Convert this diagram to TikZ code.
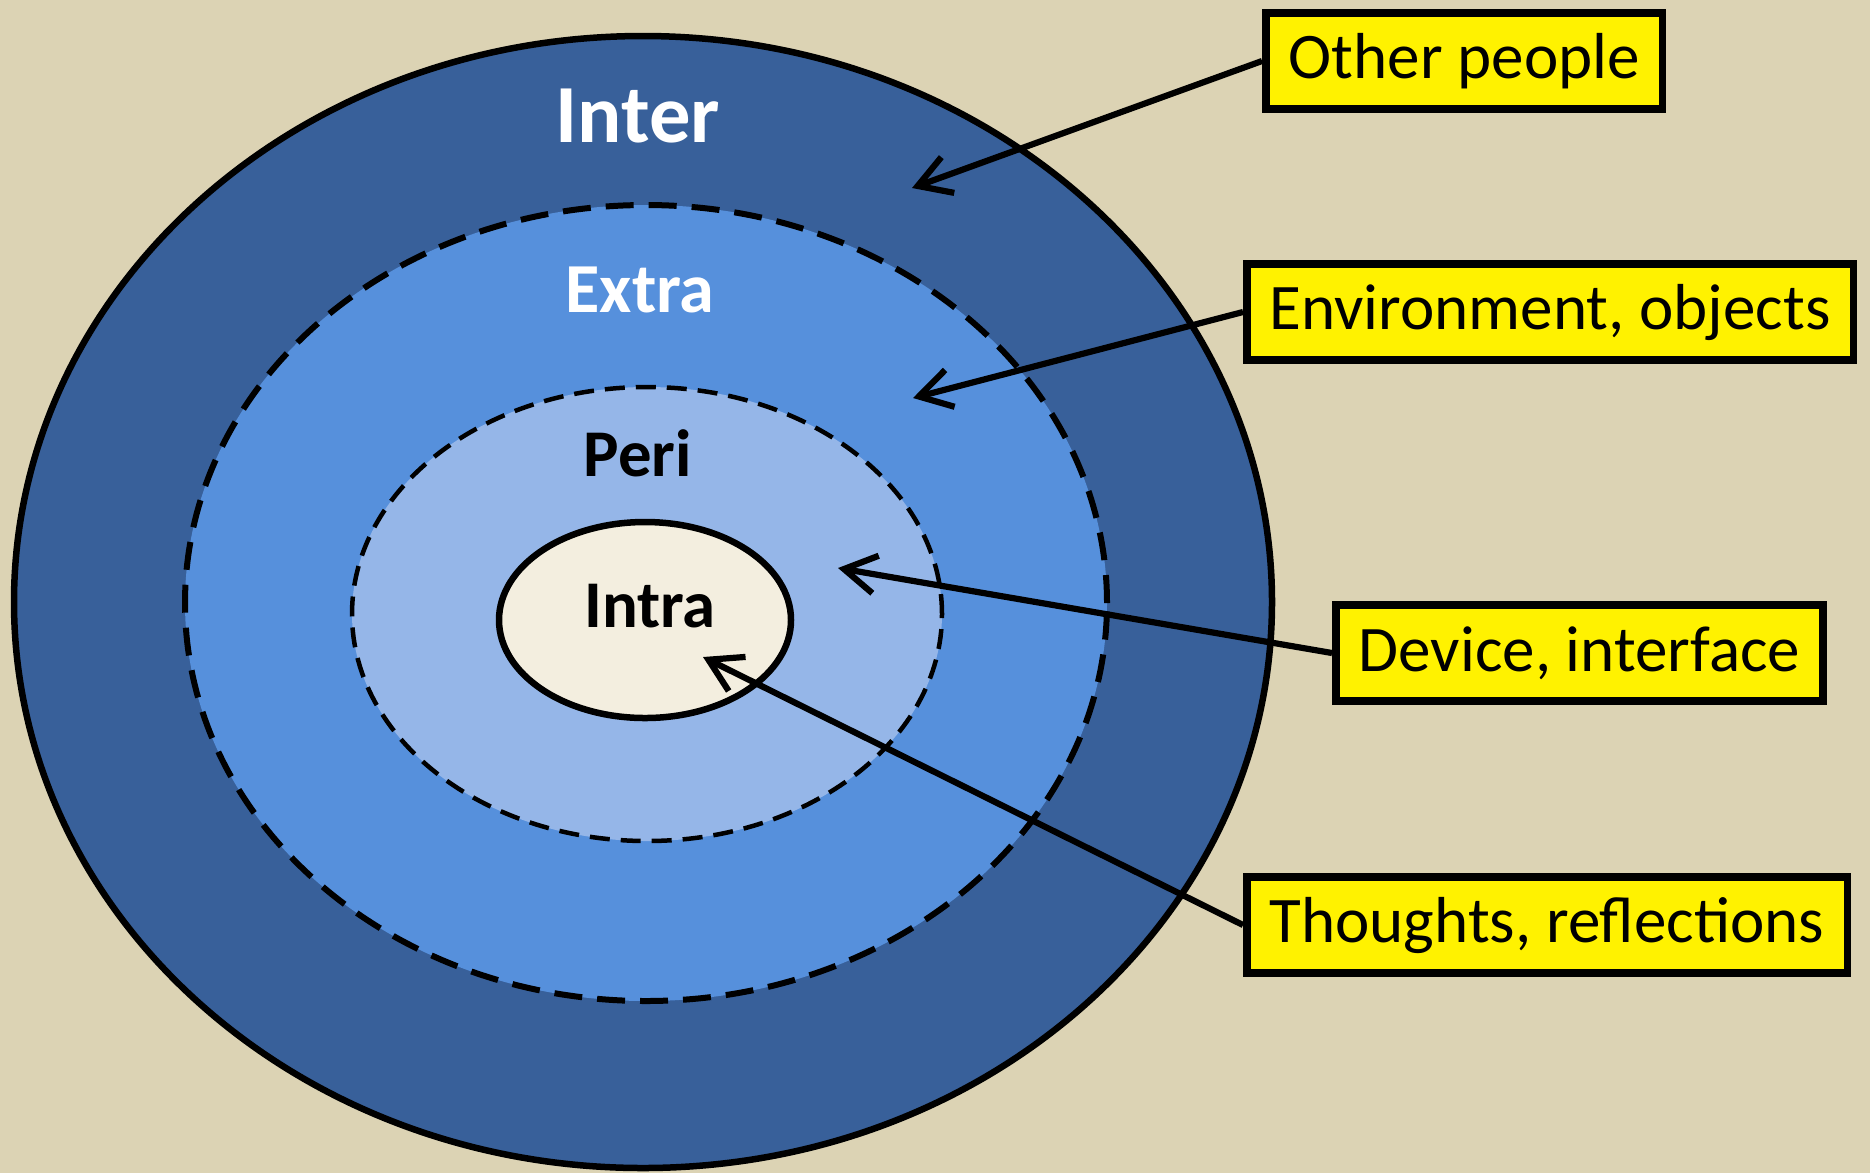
\documentclass[tikz,border=0pt]{standalone}
\usepackage{fontspec}
\setmainfont{Carlito}
\usetikzlibrary{arrows.meta}
\definecolor{bgtan}{HTML}{DCD3B4}
\definecolor{interblue}{HTML}{38609A}
\definecolor{extrablue}{HTML}{5690DC}
\definecolor{periblue}{HTML}{95B6E8}
\definecolor{intracream}{HTML}{F3EEDF}
\tikzset{
  ring/.style      = {draw=black, line width=0.65mm},
  dashring/.style  = {ring, line width=0.6mm, dash pattern=on 2.8mm off 1.5mm},
  thinring/.style  = {ring, line width=0.45mm, dash pattern=on 2mm off 1.1mm},
  ringlabel/.style = {inner sep=0pt, font=\bfseries\fontsize{19}{22}\selectfont},
  tag/.style       = {draw, line width=0.75mm, fill=yellow, anchor=west,
                      minimum height=9.6mm, inner xsep=2.3mm,
                      font=\fontsize{18.5}{22}\selectfont},
  pointer/.style   = {line width=0.62mm,
                      -{Straight Barb[length=3.2mm, width=3.8mm]}}
}

\begin{document}
\begin{tikzpicture}[x=0.1mm, y=-0.1mm]
 \useasboundingbox (0,0) rectangle (1870,1173);
 \fill[bgtan] (0,0) rectangle (1870,1173);

 % the four rings
 \filldraw[ring, fill=interblue] (643,602) ellipse [x radius=62.9mm, y radius=56.6mm];
 \filldraw[dashring, fill=extrablue] (646,603) ellipse [x radius=46.1mm, y radius=39.8mm];
 \filldraw[thinring, fill=periblue] (647,614) ellipse [x radius=29.5mm, y radius=22.7mm];
 \filldraw[ring, fill=intracream] (645,620) ellipse [x radius=14.6mm, y radius=9.8mm];

 \node[ringlabel, white, font=\bfseries\fontsize{23.5}{26}\selectfont] (inter) at (638,116) {Inter};
 \node[ringlabel, white, font=\bfseries\fontsize{20}{24}\selectfont] (extra) at (640,290) {Extra};
 \node[ringlabel] (peri) at (638,453) {Peri};
 \node[ringlabel] (intra) at (650,606) {Intra};

 \node[tag] (other)    at (1262,61)  {Other people};
 \node[tag] (env)      at (1243,312) {Environment, objects};
 \node[tag] (device)   at (1332,653) {Device, interface};
 \node[tag] (thoughts) at (1243,925) {Thoughts, reflections};

 \coordinate (toInter) at (912,188);
 \coordinate (toExtra) at (913,398);
 \coordinate (toPeri)  at (838,568);
 \coordinate (toIntra) at (703,657);

 \draw[pointer] (other.west)    -- (toInter);
 \draw[pointer] (env.west)      -- (toExtra);
 \draw[pointer] (device.west)   -- (toPeri);
 \draw[pointer] (thoughts.west) -- (toIntra);
\end{tikzpicture}
\end{document}
